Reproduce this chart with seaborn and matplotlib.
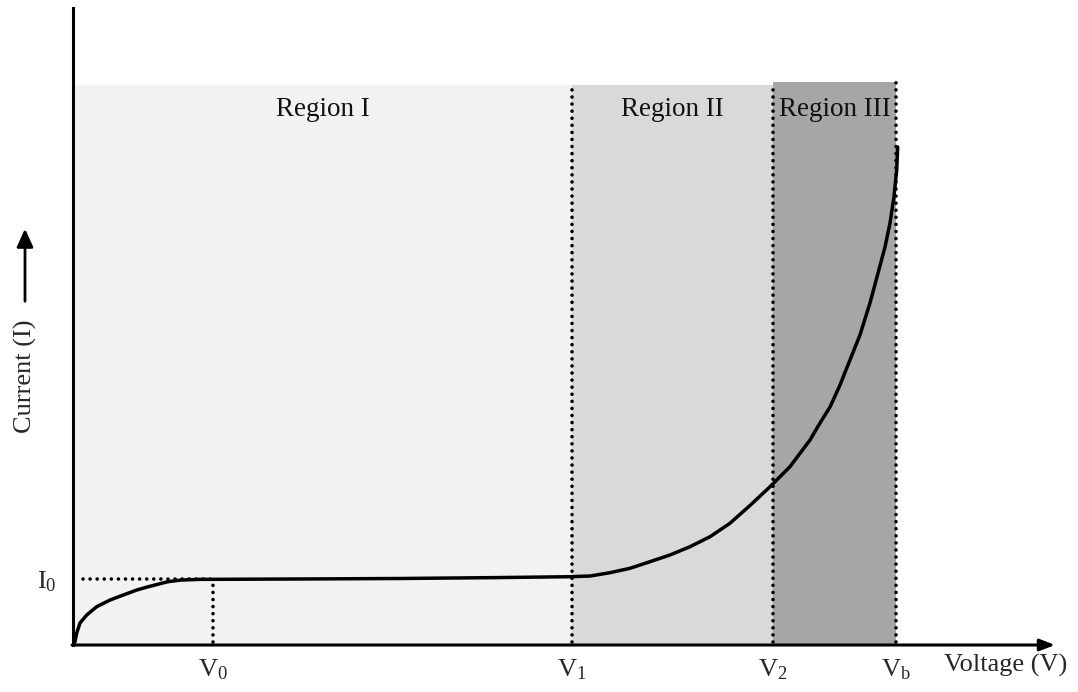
import numpy as np
import pandas as pd
import matplotlib
matplotlib.use("Agg")
import matplotlib.pyplot as plt
import seaborn as sns

# ---- data (arbitrary voltage / current units) ----
voltage = [0.000, 0.020, 0.038, 0.071, 0.140, 0.241, 0.377, 0.512, 0.649, 0.767,
           0.967, 1.103, 1.307, 1.426, 2.400, 3.330, 4.300, 5.061, 5.265, 5.468,
           5.672, 5.876, 6.079, 6.283, 6.487, 6.690, 6.894, 7.098, 7.301, 7.505,
           7.607, 7.709, 7.811, 7.912, 8.014, 8.116, 8.198, 8.269, 8.320, 8.360,
           8.388, 8.398]
current = [0.000, 0.052, 0.188, 0.345, 0.471, 0.601, 0.706, 0.785, 0.863, 0.915,
           0.994, 1.020, 1.031, 1.031, 1.037, 1.044, 1.058, 1.072, 1.083, 1.135,
           1.204, 1.308, 1.413, 1.543, 1.700, 1.911, 2.190, 2.485, 2.799, 3.218,
           3.485, 3.736, 4.082, 4.474, 4.867, 5.369, 5.840, 6.248, 6.625, 7.033,
           7.457, 7.818]

V0, V1, V2, Vb = 1.426, 5.08, 7.13, 8.38
I0 = 1.031
region_names = ["Region I", "Region II", "Region III"]
region_bounds = [(0.0, V1), (V1, V2), (V2, Vb)]
region_tops = [8.79, 8.79, 8.84]
region_colors = ["#f2f2f2", "#d9d9d9", "#a6a6a6"]
xtick_pos = [V0, V1, V2, Vb]
xtick_labels = ["V$_0$", "V$_1$", "V$_2$", "V$_\\mathrm{b}$"]
ytick_pos = [I0]
ytick_labels = ["I$_0$"]

sns.set_style("white")
plt.rcParams["font.family"] = ["Liberation Serif", "DejaVu Serif"]
plt.rcParams["mathtext.fontset"] = "custom"
plt.rcParams["mathtext.rm"] = "Liberation Serif"
plt.rcParams["mathtext.it"] = "Liberation Serif:italic"

W, H = 1078, 692
fig = plt.figure(figsize=(W / 100, H / 100), dpi=100)
ax = fig.add_axes([73 / W, (H - 645) / H, (1055 - 73) / W, (645 - 8) / H])
ax.set_xlim(0, 10)
ax.set_ylim(0, 10)
ax.set_facecolor("none")

# region fills
for (a, b), top, c in zip(region_bounds, region_tops, region_colors):
    ax.fill_between([a, b], 0, top, color=c, lw=0, zorder=1)
for name, (a, b), top in zip(region_names, region_bounds, region_tops):
    ax.text((a + b) / 2, 8.4, name, ha="center", va="center", fontsize=19.5,
            color="#111111", zorder=5)

dot = dict(color="black", lw=2.6, linestyle=(0, (0.01, 1.95)),
           dash_capstyle="round", zorder=3)
for xv, top in zip([V1, V2, Vb], [8.79, 8.82, 8.86]):
    ax.plot([xv, xv], [0.05, top], **dot)
ax.plot([V0, V0], [0.05, I0], **dot)
ax.plot([0.1, V0], [I0, I0], **dot)

df = pd.DataFrame({"Voltage": voltage, "Current": current})
sns.lineplot(data=df, x="Voltage", y="Current", ax=ax, color="black", lw=2.5,
             sort=False, estimator=None, zorder=4, solid_joinstyle="round")
ax.set_xlabel("")
ax.set_ylabel("")

# axes
for s in ["top", "right", "bottom"]:
    ax.spines[s].set_visible(False)
ax.spines["left"].set_linewidth(2.2)
ax.spines["left"].set_color("black")
ax.spines["left"].set_zorder(6)
ax.annotate("", xy=(10.0, 0), xytext=(-0.01, 0), xycoords="data",
            arrowprops=dict(arrowstyle="-|>,head_length=0.9,head_width=0.35",
                            color="black", lw=2.2, shrinkA=0, shrinkB=0),
            annotation_clip=False, zorder=6)

ax.set_xticks(xtick_pos)
ax.set_xticklabels(xtick_labels, fontsize=19)
ax.set_yticks(ytick_pos)
ax.set_yticklabels(ytick_labels, fontsize=19)
ax.tick_params(axis="x", length=0, pad=9)
ax.tick_params(axis="y", length=0, pad=12)

ax.annotate("Voltage (V)", xy=(9.5, 0), xycoords="data", xytext=(0, -20),
            textcoords="offset pixels", ha="center", va="center", fontsize=19,
            annotation_clip=False)

# y label with arrow
fig.text(25 / W, 1 - 376 / H, "Current (I)", rotation=90, ha="center",
         va="center", fontsize=19)
fig.add_artist(matplotlib.patches.FancyArrowPatch(
    (25 / W, 1 - 304 / H), (25 / W, 1 - 226 / H), transform=fig.transFigure,
    arrowstyle="-|>,head_length=0.55,head_width=0.25", color="black", lw=2.0,
    mutation_scale=20))

fig.savefig("out.png", dpi=100)
